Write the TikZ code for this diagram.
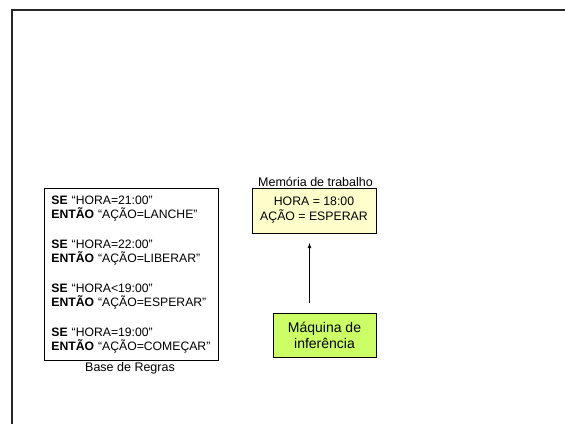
\documentclass[tikz,border=0pt]{standalone}
\usepackage{fontspec}
\setmainfont{Liberation Sans}
\begin{document}
\begin{tikzpicture}[x=1pt, y=-1pt,
        rulebox/.style={draw, line width=0.8pt, anchor=north west, minimum width=174pt, minimum height=172pt, text width=160pt, inner xsep=7pt, align=left, font=\fontsize{12.2}{14.5}\selectfont},
        membox/.style={draw, line width=0.8pt, fill=memyellow, minimum width=124pt, minimum height=45pt, align=center, font=\fontsize{12.3}{15}\selectfont},
        enginebox/.style={draw, line width=0.8pt, fill=enginegreen, minimum width=103pt, minimum height=44pt, align=center, font=\fontsize{14}{16}\selectfont},
        caption/.style={font=\fontsize{12.5}{14}\selectfont, inner sep=0pt}]
        \definecolor{memyellow}{HTML}{FFFFCC}
        \definecolor{enginegreen}{HTML}{CCFF66}
        \useasboundingbox (0,0) rectangle (565,424);

        % --- Outer frame ---
        \draw[line width=2pt, black!85] (565,10) -- (11.5,10) -- (11.5,424);

        % --- Rule base ---
        \node[rulebox] (rules) at (44,188) {%
            \textbf{SE} “HORA=21:00”\\
            \textbf{ENTÃO} “AÇÃO=LANCHE”\\[15pt]
            \textbf{SE} “HORA=22:00”\\
            \textbf{ENTÃO} “AÇÃO=LIBERAR”\\[15pt]
            \textbf{SE} “HORA<19:00”\\
            \textbf{ENTÃO} “AÇÃO=ESPERAR”\\[15pt]
            \textbf{SE} “HORA=19:00”\\
            \textbf{ENTÃO} “AÇÃO=COMEÇAR”};
        \node[caption] (rulescap) at (130,368) {Base de Regras};

        % --- Working memory ---
        \node[membox] (mem) at (314,210.5) {HORA = 18:00\\AÇÃO = ESPERAR};
        \node[caption, anchor=south] (memcap) at (315.5,187) {Memória de trabalho};

        % --- Inference engine ---
        \node[enginebox] (engine) at (324.5,335) {Máquina de\\inferência};

        % --- Arrow from engine to memory ---
        \coordinate (arrowtail) at (309.5,303);
        \coordinate (arrowhead) at (309.5,243);
        \draw[-latex, line width=0.8pt] (arrowtail) -- (arrowhead);
\end{tikzpicture}
\end{document}
